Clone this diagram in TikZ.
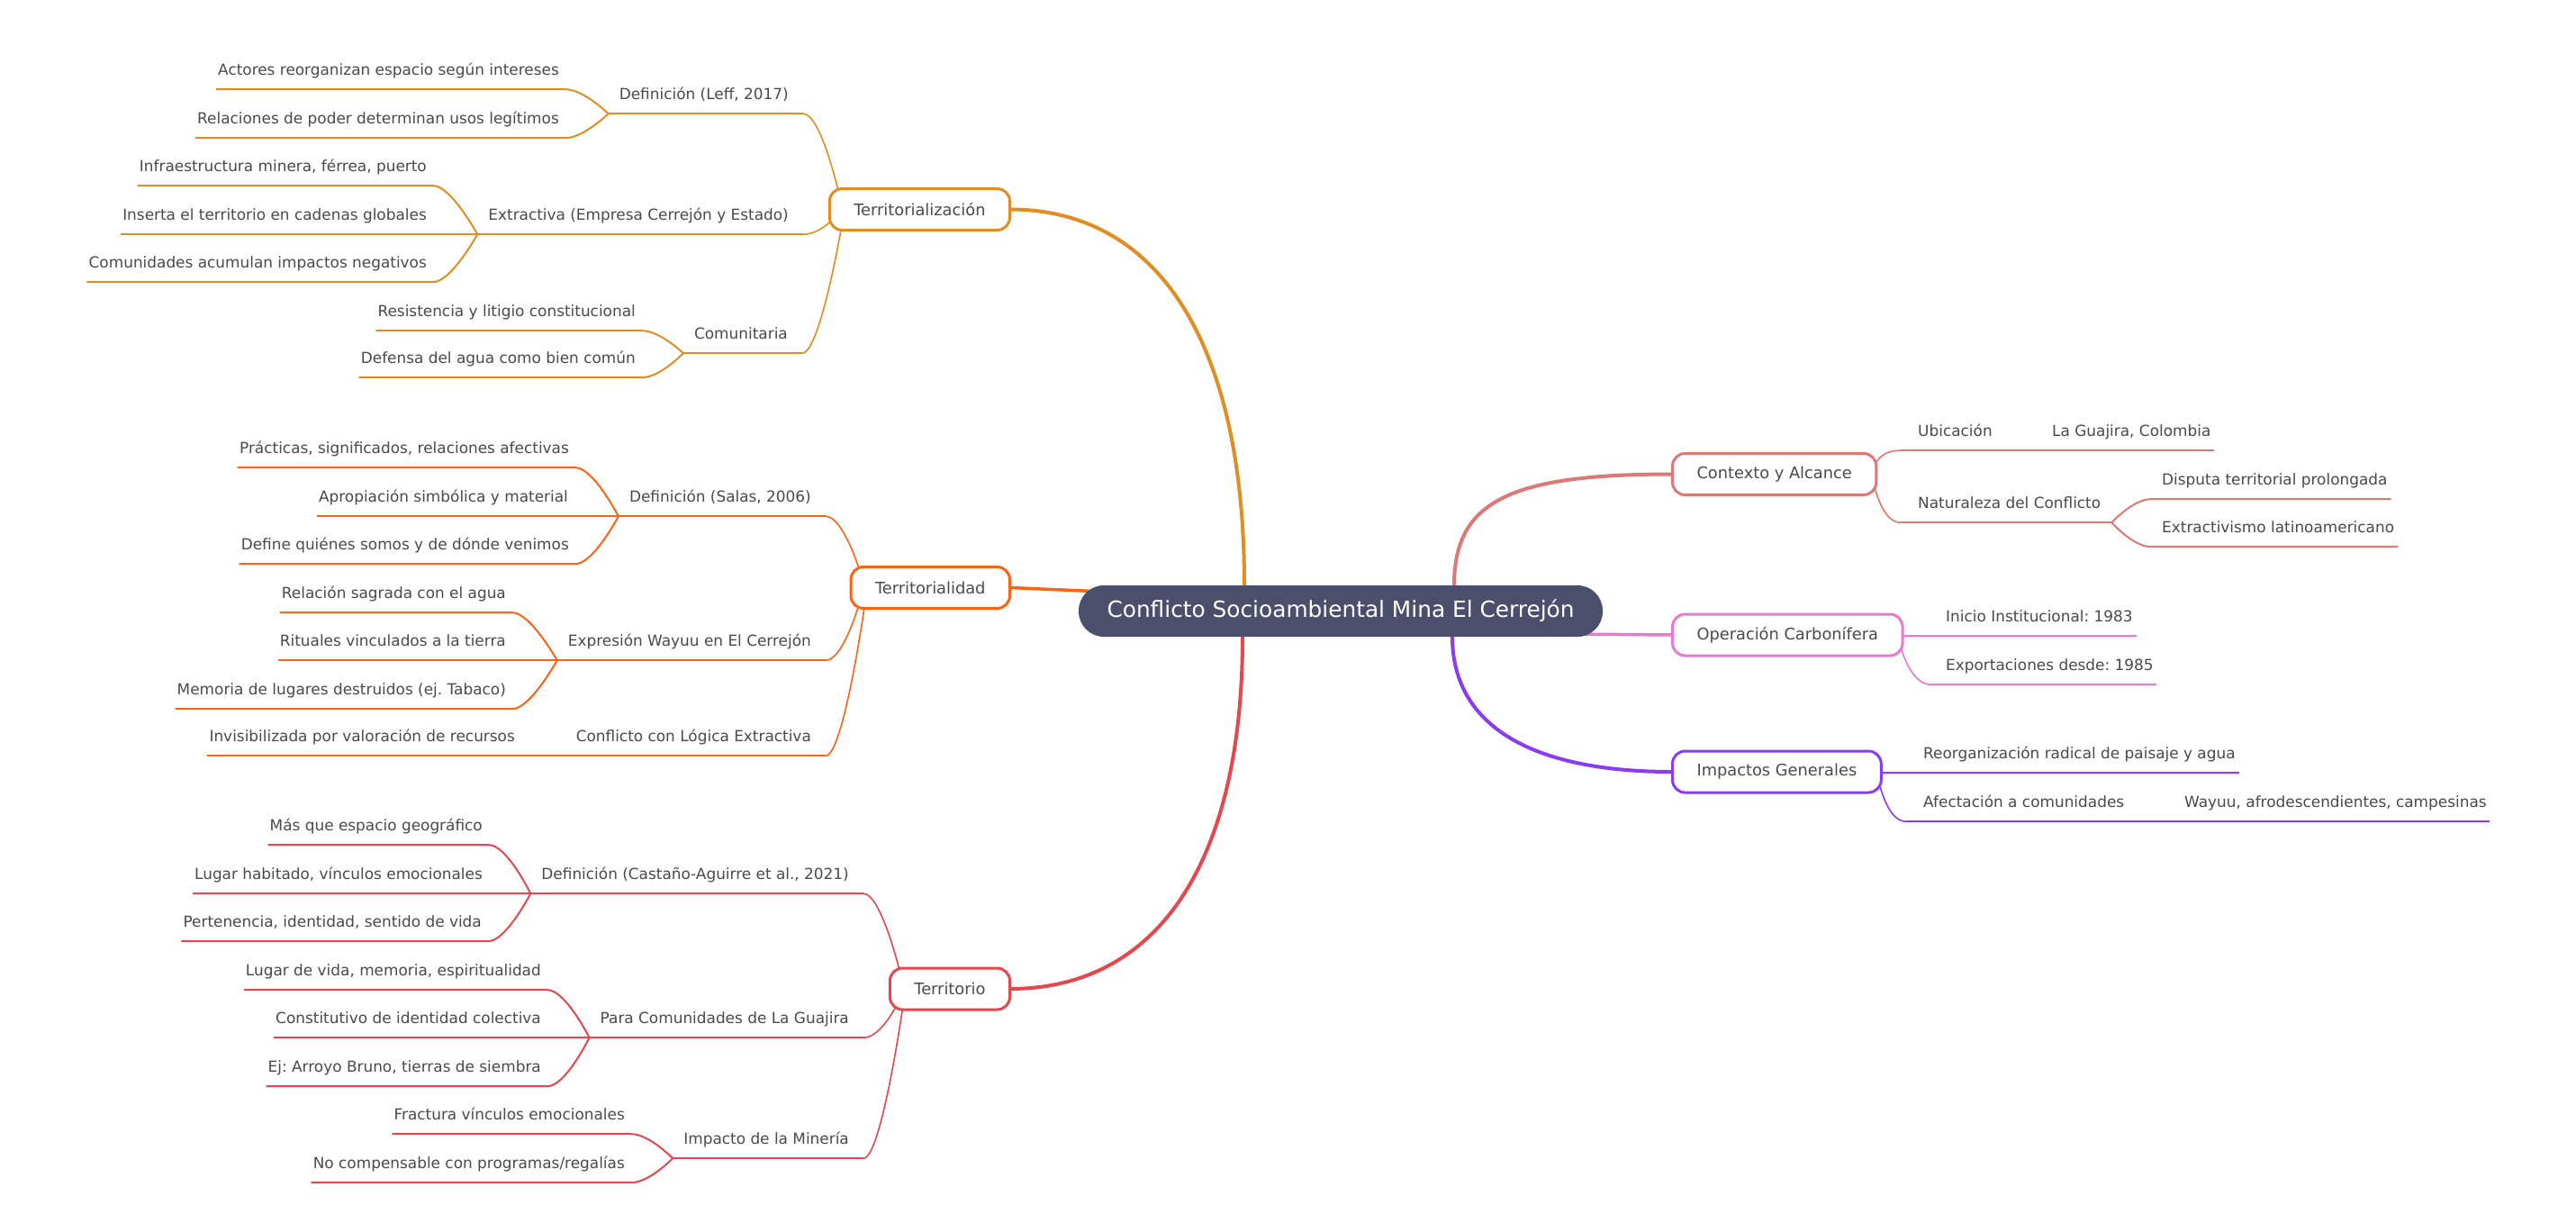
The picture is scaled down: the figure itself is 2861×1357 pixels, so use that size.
\documentclass[tikz,border=0pt]{standalone}
\usepackage{fontspec}
\setmainfont{DejaVu Sans}
\usetikzlibrary{calc}
\definecolor{cA}{HTML}{E28D22}
\definecolor{cB}{HTML}{FA6414}
\definecolor{cC}{HTML}{E5474F}
\definecolor{cD}{HTML}{DD7874}
\definecolor{cE}{HTML}{E978CF}
\definecolor{cF}{HTML}{8A3CF2}
\definecolor{rootc}{HTML}{4C4F6B}
\definecolor{txt}{HTML}{4A4A4A}
\pgfdeclarelayer{bgfill}
\pgfdeclarelayer{links}
\pgfsetlayers{bgfill,links,main}
\frenchspacing
\begin{document}
\begin{tikzpicture}[x=1pt,y=-1pt,
  lbl/.style={font=\fontsize{16.9}{20}\selectfont, text=txt, inner sep=0pt, text height=13pt, text depth=16pt},
  lleaf/.style={lbl, anchor=base east},
  rleaf/.style={lbl, anchor=base west},
  mainbox/.style={draw=#1, line width=3pt, rounded corners=14pt, fill=white, font=\fontsize{17.8}{20}\selectfont, text=txt, inner xsep=27pt, inner ysep=0pt, minimum height=46pt, outer sep=0pt},
  rootbox/.style={fill=rootc, text=white, rounded corners=28pt, minimum width=582pt, minimum height=57pt, inner sep=0pt, outer sep=0pt, font=\fontsize{24.8}{28}\selectfont},
  ul/.style={line width=2pt},
  cv/.style={line width=1.6pt},
  trunk/.style={line width=4pt},
  flat/.style={line width=3.5pt}]
\useasboundingbox (0,0) rectangle (2861,1357);
\begin{pgfonlayer}{bgfill}
\fill[white] (0,0) rectangle (2861,1357);
\end{pgfonlayer}

% root and main branches
\node[rootbox] (root) at (1489,678.5) {Conflicto Socioambiental Mina El Cerrejón};
\node[mainbox=cA, anchor=east] (A) at (1121.5,232.5) {Territorialización};
\node[mainbox=cB, anchor=east] (B) at (1121.5,652.5) {Territorialidad};
\node[mainbox=cC, anchor=east] (C) at (1121.5,1098) {Territorio};
\node[mainbox=cD, anchor=west] (D) at (1857.5,526.5) {Contexto y Alcance};
\node[mainbox=cE, anchor=west] (E) at (1857.5,705) {Operación Carbonífera};
\node[mainbox=cF, anchor=west] (F) at (1857.5,857) {Impactos Generales};

% left labels
\node[lleaf] (a1) at (876,110) {Definición (Leff, 2017)};
\node[lleaf] (a11) at (621,83) {Actores reorganizan espacio según intereses};
\node[lleaf] (a12) at (621,137) {Relaciones de poder determinan usos legítimos};
\node[lleaf] (a2) at (876,244) {Extractiva (Empresa Cerrejón y Estado)};
\node[lleaf] (a21) at (474,190) {Infraestructura minera, férrea, puerto};
\node[lleaf] (a22) at (474,244) {Inserta el territorio en cadenas globales};
\node[lleaf] (a23) at (474,297) {Comunidades acumulan impactos negativos};
\node[lleaf] (a3) at (875,376) {Comunitaria};
\node[lleaf] (a31) at (706,351) {Resistencia y litigio constitucional};
\node[lleaf] (a32) at (706,403) {Defensa del agua como bien común};

\node[lleaf] (b1) at (901,557) {Definición (Salas, 2006)};
\node[lleaf] (b11) at (632,503) {Prácticas, significados, relaciones afectivas};
\node[lleaf] (b12) at (631,557) {Apropiación simbólica y material};
\node[lleaf] (b13) at (632,610) {Define quiénes somos y de dónde venimos};
\node[lleaf] (b2) at (901,717) {Expresión Wayuu en El Cerrejón};
\node[lleaf] (b21) at (562,664) {Relación sagrada con el agua};
\node[lleaf] (b22) at (562,717) {Rituales vinculados a la tierra};
\node[lleaf] (b23) at (562,771) {Memoria de lugares destruidos (ej. Tabaco)};
\node[lleaf] (b3) at (901,823) {Conflicto con Lógica Extractiva};
\node[lleaf] (b31) at (572,823) {Invisibilizada por valoración de recursos};

\node[lleaf] (c1) at (943,976) {Definición (Castaño-Aguirre et al., 2021)};
\node[lleaf] (c11) at (536,922) {Más que espacio geográfico};
\node[lleaf] (c12) at (536,976) {Lugar habitado, vínculos emocionales};
\node[lleaf] (c13) at (535,1029) {Pertenencia, identidad, sentido de vida};
\node[lleaf] (c2) at (943,1136) {Para Comunidades de La Guajira};
\node[lleaf] (c21) at (601,1083) {Lugar de vida, memoria, espiritualidad};
\node[lleaf] (c22) at (601,1136) {Constitutivo de identidad colectiva};
\node[lleaf] (c23) at (601,1190) {Ej: Arroyo Bruno, tierras de siembra};
\node[lleaf] (c3) at (943,1270) {Impacto de la Minería};
\node[lleaf] (c31) at (694,1243) {Fractura vínculos emocionales};
\node[lleaf] (c32) at (694,1297) {No compensable con programas/regalías};

% right labels
\node[rleaf] (d1) at (2130,484) {Ubicación};
\node[rleaf] (d11) at (2279,484) {La Guajira, Colombia};
\node[rleaf] (d2) at (2130,564) {Naturaleza del Conflicto};
\node[rleaf] (d21) at (2401,538) {Disputa territorial prolongada};
\node[rleaf] (d22) at (2401,591) {Extractivismo latinoamericano};
\node[rleaf] (e1) at (2161,690) {Inicio Institucional: 1983};
\node[rleaf] (e2) at (2161,744) {Exportaciones desde: 1985};
\node[rleaf] (f1) at (2136,842) {Reorganización radical de paisaje y agua};
\node[rleaf] (f2) at (2136,896) {Afectación a comunidades};
\node[rleaf] (f21) at (2426,896) {Wayuu, afrodescendientes, campesinas};

\begin{pgfonlayer}{links}
% trunks
\draw[trunk,cA] ($(root.north west)+(184,10)$) -- ($(root.north west)+(184,0)$) .. controls +(0,-268) and +(166,0) .. (A.east);
\draw[flat,cB] (B.east) -- ($(root.west)+(40,-21)$);
\draw[trunk,cC] ($(root.south west)+(182,-10)$) -- ($(root.south west)+(182,0)$) .. controls +(0,250) and +(165,0) .. (C.east);
\draw[trunk,cD] ($(root.north west)+(417,10)$) -- ($(root.north west)+(417,0)$) .. controls +(0,-93) and +(-182,0) .. (D.west);
\draw[flat,cE] ($(root.east)+(-40,25.5)$) -- (E.west);
\draw[trunk,cF] ($(root.south west)+(415,-10)$) -- ($(root.south west)+(415,0)$) .. controls +(0,97.5) and +(-159,0) .. (F.west);

% left leaves with forks
\foreach \n/\p/\c in {a11/a1/cA, a12/a1/cA, a21/a2/cA, a22/a2/cA, a23/a2/cA, a31/a3/cA, a32/a3/cA,
  b11/b1/cB, b12/b1/cB, b13/b1/cB, b21/b2/cB, b22/b2/cB, b23/b2/cB,
  c11/c1/cC, c12/c1/cC, c13/c1/cC, c21/c2/cC, c22/c2/cC, c23/c2/cC, c31/c3/cC, c32/c3/cC}
  \draw[ul,\c] ($(\n.south west)+(-2,0)$) -- ($(\n.south east)+(7,0)$) .. controls +(20,0) and +(0,0) .. ($(\p.south west)+(-12,0)$);

% left sub-branch underlines
\foreach \p/\c in {a1/cA, a2/cA, a3/cA, b1/cB, b2/cB, c1/cC, c2/cC, c3/cC}
  \draw[ul,\c] ($(\p.south west)+(-12,0)$) -- ($(\p.south east)+(16,0)$);
\draw[ul,cB] ($(b31.south west)+(-2,0)$) -- ($(b3.south east)+(16,0)$);

% sub-branch to main box
\draw[cv,cA] ($(a1.south east)+(16,0)$) .. controls +(20,0) and +(0,0) .. ($(A.north west)+(11,8)$);
\draw[cv,cA] ($(a2.south east)+(16,0)$) .. controls +(20,0) and +(0,0) .. ($(A.south west)+(7,-16)$);
\draw[cv,cA] ($(a3.south east)+(16,0)$) .. controls +(20,0) and +(0,0) .. ($(A.south west)+(14,-8)$);
\draw[cv,cB] ($(b1.south east)+(16,0)$) .. controls +(20,0) and +(0,0) .. ($(B.north west)+(11,8)$);
\draw[cv,cB] ($(b2.south east)+(16,0)$) .. controls +(20,0) and +(0,0) .. ($(B.south west)+(10,-8)$);
\draw[cv,cB] ($(b3.south east)+(16,0)$) .. controls +(20,0) and +(0,0) .. ($(B.south west)+(16,-8)$);
\draw[cv,cC] ($(c1.south east)+(16,0)$) .. controls +(20,0) and +(0,0) .. ($(C.north west)+(12,8)$);
\draw[cv,cC] ($(c2.south east)+(16,0)$) .. controls +(20,0) and +(0,0) .. ($(C.south west)+(9,-8)$);
\draw[cv,cC] ($(c3.south east)+(16,0)$) .. controls +(20,0) and +(0,0) .. ($(C.south west)+(15,-8)$);

% right side
\draw[cv,cD] ($(D.east)+(-4,-6)$) .. controls +(6,-14) and +(-16,0) .. ($(d1.south west)+(-19,0)$);
\draw[ul,cD] ($(d1.south west)+(-19,0)$) -- ($(d11.south east)+(3,0)$);
\draw[cv,cD] ($(D.east)+(-4,6)$) .. controls +(6,25) and +(-16,0) .. ($(d2.south west)+(-19,0)$);
\draw[ul,cD] ($(d2.south west)+(-19,0)$) -- ($(d2.south east)+(12,0)$);
\foreach \n in {d21,d22}
  \draw[ul,cD] ($(d2.south east)+(12,0)$) .. controls +(0,0) and +(-20,0) .. ($(\n.south west)+(-12,0)$) -- ($(\n.south east)+(4,0)$);
\draw[ul,cE] ($(E.east)+(-5,1)$) -- ($(e1.south east)+(4,0)$);
\draw[cv,cE] ($(E.east)+(-4,6)$) .. controls +(6,25) and +(-18,0) .. ($(e2.south west)+(-16,0)$);
\draw[ul,cE] ($(e2.south west)+(-16,0)$) -- ($(e2.south east)+(3,0)$);
\draw[ul,cF] ($(F.east)+(-5,1)$) -- ($(f1.south east)+(4,0)$);
\draw[cv,cF] ($(F.east)+(-4,6)$) .. controls +(6,25) and +(-16,0) .. ($(f2.south west)+(-19,0)$);
\draw[ul,cF] ($(f2.south west)+(-19,0)$) -- ($(f21.south east)+(3,0)$);
\end{pgfonlayer}
\end{tikzpicture}
\end{document}
